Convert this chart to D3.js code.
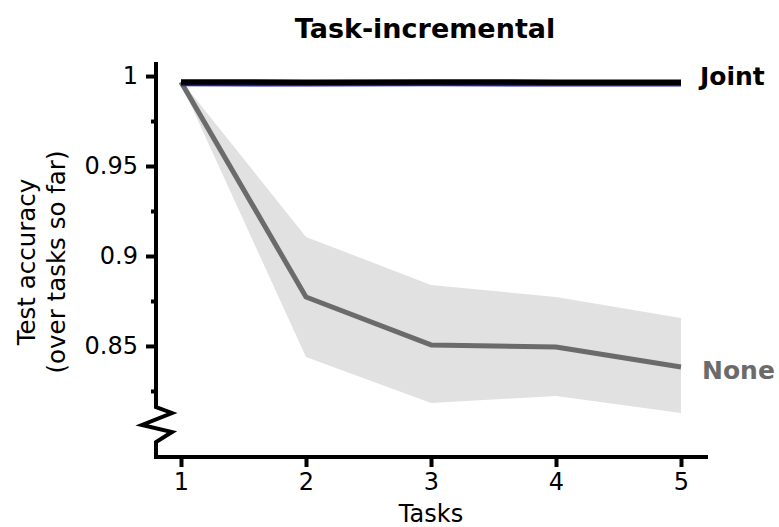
<!DOCTYPE html>
<html>
<head>
<meta charset="utf-8">
<script src="https://cdn.jsdelivr.net/npm/d3@7/dist/d3.min.js"></script>
<style>
  html, body { margin: 0; padding: 0; background: #fff; }
  svg { display: block; }
  text { font-family: "DejaVu Sans", sans-serif; }
</style>
</head>
<body>
<svg id="chart" width="779" height="527"></svg>
<script>
// Task-incremental accuracy after each task
const tasks = [1, 2, 3, 4, 5];
const jointAcc = [0.9967, 0.9966, 0.9967, 0.9966, 0.9966];
const baselineAcc = [0.9965, 0.9964, 0.9965, 0.9964, 0.9964];
const noneAcc = [0.9967, 0.8772, 0.8506, 0.8494, 0.8383];
const noneUpper = [0.9975, 0.9106, 0.8839, 0.8772, 0.8656];
const noneLower = [0.9959, 0.8439, 0.8183, 0.8222, 0.8128];
const majorTicks = [1, 0.95, 0.9, 0.85];
const minorTicks = [0.975, 0.925, 0.875, 0.825];
const tickLabels = ["1", "0.95", "0.9", "0.85"];

const svg = d3.select("#chart");

const x = d3.scaleLinear().domain([1, 5]).range([181, 681]);
const y = d3.scaleLinear().domain([0.7883, 1.0078]).range([457, 62]);

const axisX0 = 156;            // left spine position
const xEnd = 708;              // right end of bottom spine

// Shaded spread around the "None" curve
const area = d3.area()
  .x((d, i) => x(tasks[i]))
  .y0((d, i) => y(noneLower[i]))
  .y1((d, i) => y(noneUpper[i]));
svg.append("path")
  .datum(noneAcc)
  .attr("d", area)
  .attr("fill", "#e1e1e1");

const line = d3.line().x((d, i) => x(tasks[i])).y(d => y(d));

svg.append("path").datum(noneAcc).attr("d", line)
  .attr("fill", "none").attr("stroke", "#6b6b6b").attr("stroke-width", 5)
  .attr("stroke-linejoin", "round");

svg.append("path").datum(baselineAcc).attr("d", d3.line().x((d, i) => x(tasks[i])).y(d => y(d) + 2.5))
  .attr("fill", "none").attr("stroke", "#2020b0").attr("stroke-width", 3);

svg.append("path").datum(jointAcc).attr("d", line)
  .attr("fill", "none").attr("stroke", "#000").attr("stroke-width", 5.5);

// Left axis ticks (labels + major), minor ticks
const yAxis = d3.axisLeft(y).tickValues(majorTicks)
  .tickFormat((d, i) => tickLabels[i]).tickSize(10).tickPadding(8);
const gy = svg.append("g").attr("transform", `translate(${axisX0},0)`).call(yAxis);
gy.select(".domain").remove();
gy.selectAll(".tick line").attr("stroke", "#000").attr("stroke-width", 4);
gy.selectAll(".tick text").attr("font-size", 24).attr("font-family", "DejaVu Sans").attr("fill", "#000");

const yMinor = d3.axisLeft(y).tickValues(minorTicks).tickFormat("").tickSize(5);
const gym = svg.append("g").attr("transform", `translate(${axisX0},0)`).call(yMinor);
gym.select(".domain").remove();
gym.selectAll(".tick line").attr("stroke", "#000").attr("stroke-width", 4);

// Bottom axis
const xAxis = d3.axisBottom(x).tickValues(tasks).tickFormat(d3.format("d")).tickSize(10).tickPadding(6);
const gx = svg.append("g").attr("transform", `translate(0,${y(0.7883)})`).call(xAxis);
gx.select(".domain").remove();
gx.selectAll(".tick line").attr("stroke", "#000").attr("stroke-width", 4);
gx.selectAll(".tick text").attr("font-size", 24).attr("font-family", "DejaVu Sans").attr("fill", "#000");

// Spines with a zigzag break on the left axis
const yb = y(0.7883);
const spine = d3.path();
spine.moveTo(axisX0, y(1.0078));
spine.lineTo(axisX0, 407);
spine.lineTo(axisX0 + 16, 413);
spine.lineTo(axisX0 - 14, 425);
spine.lineTo(axisX0 + 16, 432);
spine.lineTo(axisX0, 442);
spine.lineTo(axisX0, yb);
spine.lineTo(xEnd, yb);
svg.append("path").attr("d", spine.toString())
  .attr("fill", "none").attr("stroke", "#000").attr("stroke-width", 4)
  .attr("stroke-linejoin", "miter");

// Titles
svg.append("text").attr("x", 425).attr("y", 38).attr("text-anchor", "middle")
  .attr("font-family", "Liberation Sans, Arial, sans-serif").attr("font-weight", "bold")
  .attr("font-size", 27).text("Task-incremental");

svg.append("text").attr("x", (x(1) + x(5)) / 2).attr("y", 522).attr("text-anchor", "middle")
  .attr("font-size", 24).text("Tasks");

const ylab = svg.append("text").attr("transform", "translate(0,262) rotate(-90)")
  .attr("text-anchor", "middle").attr("font-size", 24.5);
ylab.append("tspan").attr("x", 0).attr("y", 35).text("Test accuracy");
ylab.append("tspan").attr("x", 0).attr("y", 65).text("(over tasks so far)");

// Series labels at line ends
svg.append("text").attr("x", 700).attr("y", y(jointAcc[4]) + 3).attr("font-weight", "bold")
  .attr("font-size", 25).attr("fill", "#000").text("Joint");
svg.append("text").attr("x", 702).attr("y", y(noneAcc[4]) + 12).attr("font-weight", "bold")
  .attr("font-size", 25).attr("fill", "#6b6b6b").text("None");
</script>
</body>
</html>
